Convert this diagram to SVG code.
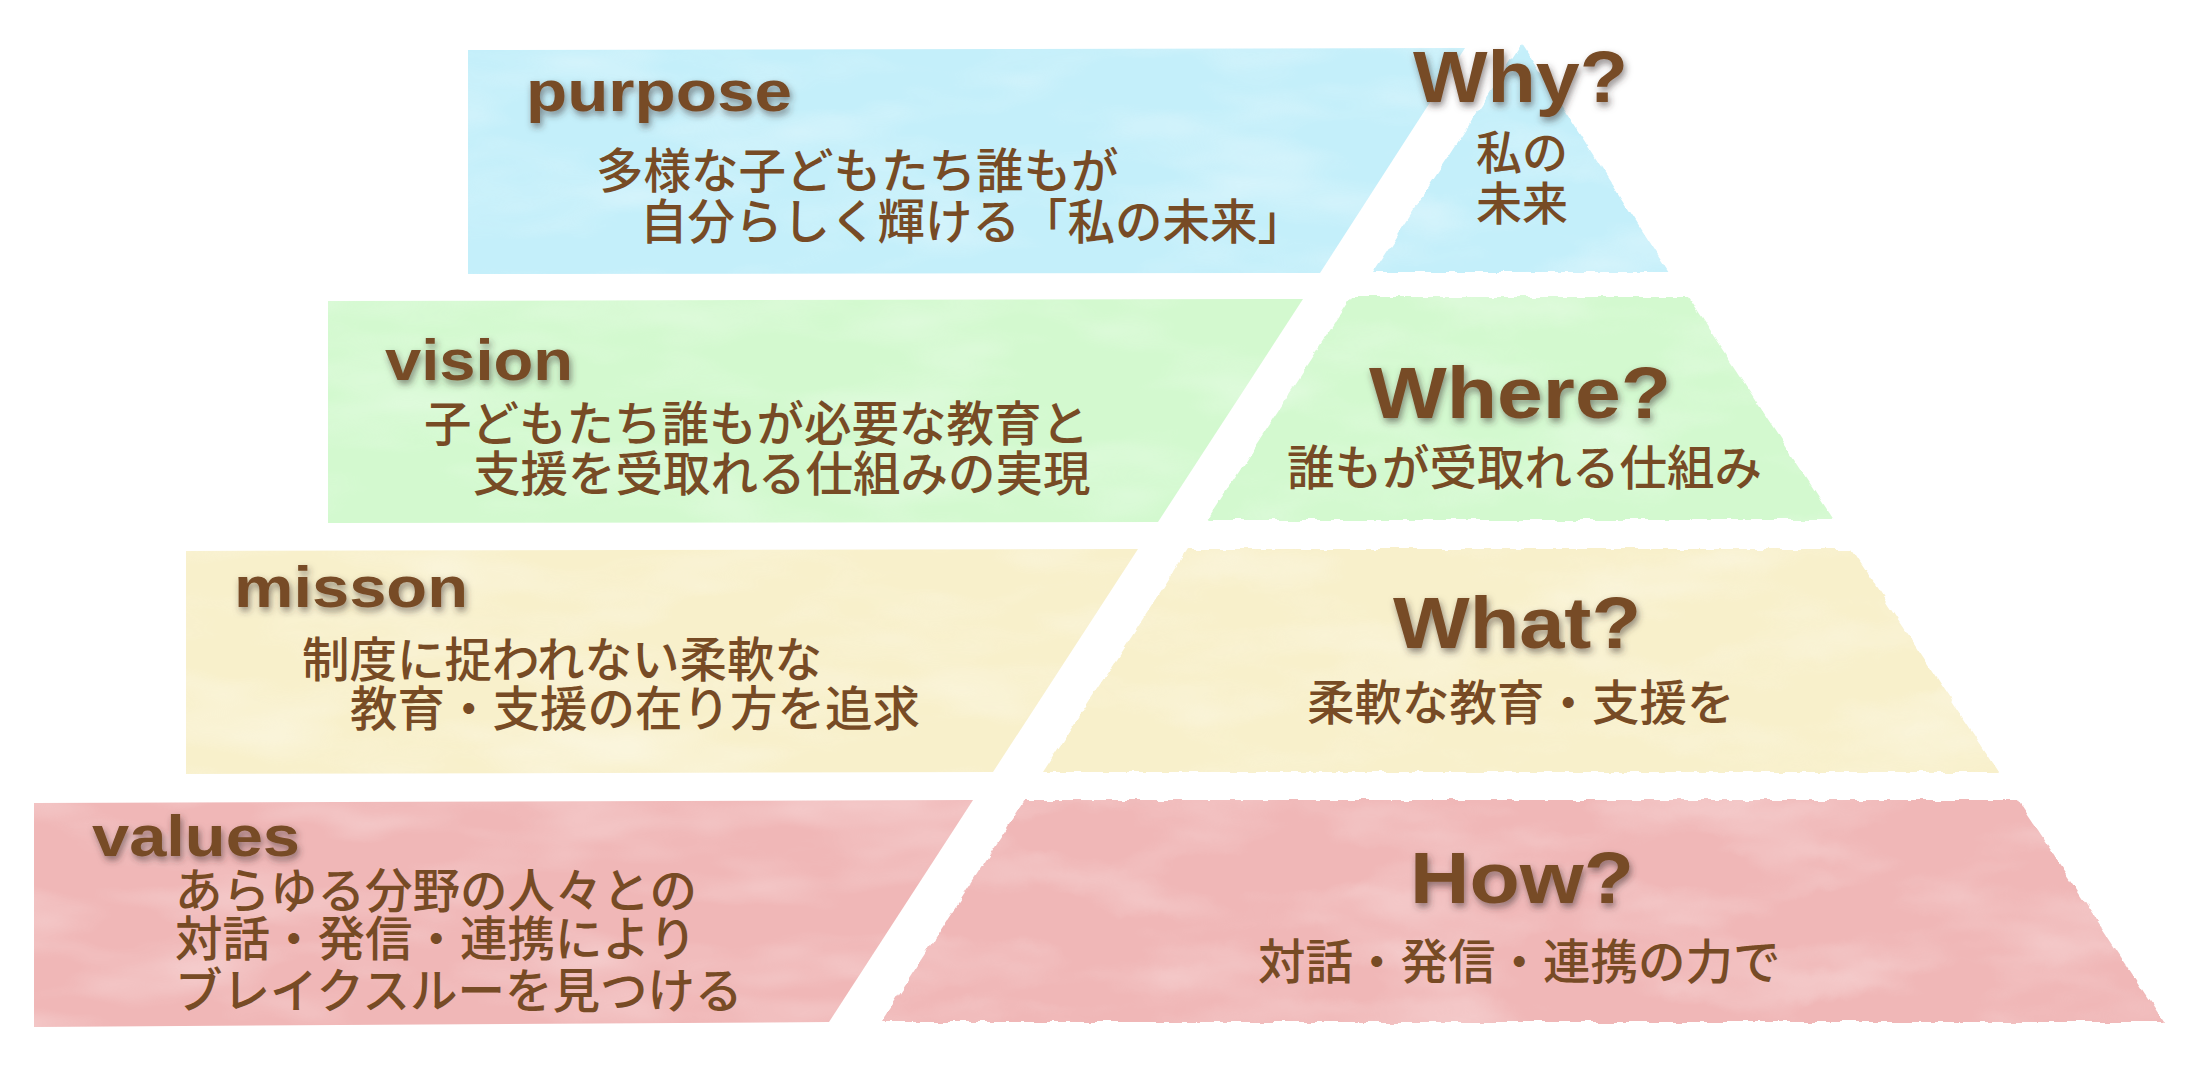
<svg xmlns="http://www.w3.org/2000/svg" width="2198" height="1073" viewBox="0 0 2198 1073">
<defs>
<style>
.lbl{font-family:"Liberation Sans",Arial,sans-serif;font-weight:bold;font-size:58px;fill:#774b25;filter:url(#shadow)}
.q{font-family:"Liberation Sans",Arial,sans-serif;font-weight:bold;font-size:72px;fill:#774b25;filter:url(#shadow)}
.jp{font-family:"Noto Sans CJK JP","Noto Sans",sans-serif;font-size:47.5px;font-weight:500;fill:#774b25}
.blue{fill:#c4effa}
.green{fill:#d3f9cf}
.yellow{fill:#f8f0cb}
.red{fill:#f0b7b7}
.mot{fill:#ffffff;opacity:0.45;filter:url(#mottle)}
</style>
<filter id="shadow" x="-10%" y="-20%" width="120%" height="150%">
<feDropShadow dx="2" dy="4" stdDeviation="3.5" flood-color="#3a3030" flood-opacity="0.55"/>
</filter>
<filter id="mottle" x="0" y="0" width="100%" height="100%">
<feTurbulence type="fractalNoise" baseFrequency="0.006 0.018" numOctaves="3" seed="7" result="n"/>
<feColorMatrix in="n" type="matrix" values="0 0 0 0 1  0 0 0 0 1  0 0 0 0 1  1.6 0 0 0 -0.7" result="s"/>
<feComposite in="s" in2="SourceGraphic" operator="in"/>
</filter>
<filter id="rough" x="-3%" y="-3%" width="106%" height="106%">
<feTurbulence type="fractalNoise" baseFrequency="0.07" numOctaves="2" seed="3" result="t"/>
<feDisplacementMap in="SourceGraphic" in2="t" scale="7" xChannelSelector="R" yChannelSelector="G"/>
</filter>
</defs>
<rect width="2198" height="1073" fill="#ffffff"/>

<g id="purpose">
<polygon class="blue" points="468,50 1465,48 1320,273 468,274"/>
<polygon class="mot" points="468,50 1465,48 1320,273 468,274"/>
</g>
<g id="why">
<g filter="url(#rough)">
<polygon class="blue" points="1522,44 1669,272 1373,272"/>
<polygon class="mot" points="1522,44 1669,272 1373,272"/>
</g>
</g>
<g id="vision">
<polygon class="green" points="328,301 1303,299 1158,522 328,523"/>
<polygon class="mot" points="328,301 1303,299 1158,522 328,523"/>
</g>
<g id="where">
<g filter="url(#rough)">
<polygon class="green" points="1352,297 1688,297 1834,520 1207,520"/>
<polygon class="mot" points="1352,297 1688,297 1834,520 1207,520"/>
</g>
</g>
<g id="mission">
<polygon class="yellow" points="186,551 1138,549 993,772 186,774"/>
<polygon class="mot" points="186,551 1138,549 993,772 186,774"/>
</g>
<g id="what">
<g filter="url(#rough)">
<polygon class="yellow" points="1188,549 1852,549 1999,772 1043,772"/>
<polygon class="mot" points="1188,549 1852,549 1999,772 1043,772"/>
</g>
</g>
<g id="values">
<polygon class="red" points="34,803 973,800 829,1022 34,1027"/>
<polygon class="mot" points="34,803 973,800 829,1022 34,1027"/>
</g>
<g id="how">
<g filter="url(#rough)">
<polygon class="red" points="1025,800 2017,800 2164,1022 881,1022"/>
<polygon class="mot" points="1025,800 2017,800 2164,1022 881,1022"/>
</g>
</g>

<g id="texts-purpose">
<text class="lbl" x="526" y="111" textLength="266" lengthAdjust="spacingAndGlyphs">purpose</text>
<text class="jp"><tspan x="596" y="188">多様な子どもたち誰もが</tspan><tspan x="640" y="239">自分らしく輝ける「私の未来」</tspan></text>
</g>
<g id="texts-why">
<text class="q" x="1413" y="102" textLength="215" lengthAdjust="spacingAndGlyphs">Why?</text>
<text class="jp" text-anchor="middle" style="font-size:46px"><tspan x="1522" y="169">私の</tspan><tspan x="1522" y="220">未来</tspan></text>
</g>
<g id="texts-vision">
<text class="lbl" x="385" y="380" textLength="188" lengthAdjust="spacingAndGlyphs">vision</text>
<text class="jp"><tspan x="424" y="441">子どもたち誰もが必要な教育と</tspan><tspan x="473" y="491">支援を受取れる仕組みの実現</tspan></text>
</g>
<g id="texts-where">
<text class="q" x="1369" y="418" textLength="302" lengthAdjust="spacingAndGlyphs">Where?</text>
<text class="jp" x="1287" y="485">誰もが受取れる仕組み</text>
</g>
<g id="texts-mission">
<text class="lbl" x="234" y="607" textLength="234" lengthAdjust="spacingAndGlyphs">misson</text>
<text class="jp"><tspan x="302" y="677">制度に捉われない柔軟な</tspan><tspan x="350" y="726">教育・支援の在り方を追求</tspan></text>
</g>
<g id="texts-what">
<text class="q" x="1393" y="648" textLength="248" lengthAdjust="spacingAndGlyphs">What?</text>
<text class="jp" x="1307" y="720">柔軟な教育・支援を</text>
</g>
<g id="texts-values">
<text class="lbl" x="92" y="856" textLength="208" lengthAdjust="spacingAndGlyphs">values</text>
<text class="jp"><tspan x="175" y="908">あらゆる分野の人々との</tspan><tspan x="175" y="956">対話・発信・連携により</tspan><tspan x="175" y="1008">ブレイクスルーを見つける</tspan></text>
</g>
<g id="texts-how">
<text class="q" x="1410" y="903" textLength="224" lengthAdjust="spacingAndGlyphs">How?</text>
<text class="jp" x="1258" y="979">対話・発信・連携の力で</text>
</g>
</svg>
